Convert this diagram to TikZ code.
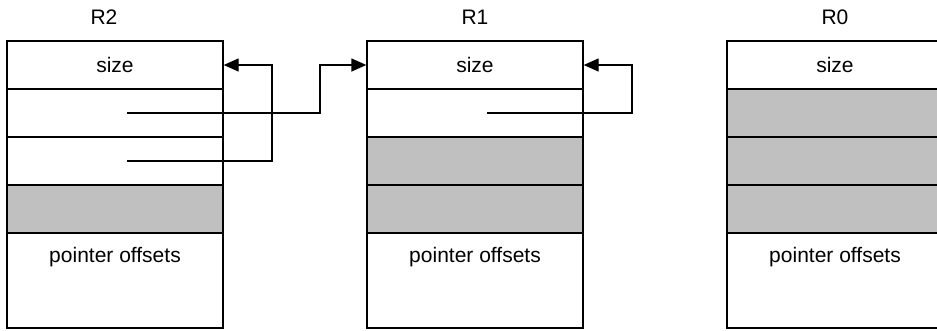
\documentclass[tikz,border=0pt]{standalone}
\usepackage{fontspec}
\setmainfont{Liberation Sans}
\usetikzlibrary{arrows.meta}
\definecolor{libre}{RGB}{192,192,192}
\begin{document}
\begin{tikzpicture}[
x=1pt, y=-1pt,
every node/.style={font=\fontsize{21}{25}\selectfont},
celda/.style={draw, line width=1.3pt, fill=white, minimum width=216, minimum height=48, inner sep=0pt},
hueco/.style={celda, fill=libre},
offsets/.style={celda, minimum height=95},
puntero/.style={line width=1.3pt, -{Triangle[length=15pt, width=13pt]}}
]
\useasboundingbox (0,0) rectangle (937,330);
% Titulos
\node (t2) at (104,17) {R2};
\node (t1) at (475,17) {R1};
\node (t0) at (835,17) {R0};
% Region R2
\node[celda] (r2size) at (115,65) {size};
\node[celda] (r2a) at (115,113) {};
\node[celda] (r2b) at (115,161) {};
\node[hueco] (r2c) at (115,209) {};
\node[offsets] (r2off) at (115,280.5) {};
\node (r2txt) at (115,257) {pointer offsets};
% Region R1
\node[celda] (r1size) at (475,65) {size};
\node[celda] (r1a) at (475,113) {};
\node[hueco] (r1b) at (475,161) {};
\node[hueco] (r1c) at (475,209) {};
\node[offsets] (r1off) at (475,280.5) {};
\node (r1txt) at (475,257) {pointer offsets};
% Region R0
\node[celda] (r0size) at (835,65) {size};
\node[hueco] (r0a) at (835,113) {};
\node[hueco] (r0b) at (835,161) {};
\node[hueco] (r0c) at (835,209) {};
\node[offsets] (r0off) at (835,280.5) {};
\node (r0txt) at (835,257) {pointer offsets};
% Punteros
\coordinate (p1) at (127,113);
\coordinate (p2) at (127,161);
\coordinate (p3) at (487,113);
\draw[puntero] (p1) -- ++(193,0) |- (r1size.west);
\draw[puntero] (p2) -- ++(145,0) |- (r2size.east);
\draw[puntero] (p3) -- ++(145,0) |- (r1size.east);
\end{tikzpicture}
\end{document}
